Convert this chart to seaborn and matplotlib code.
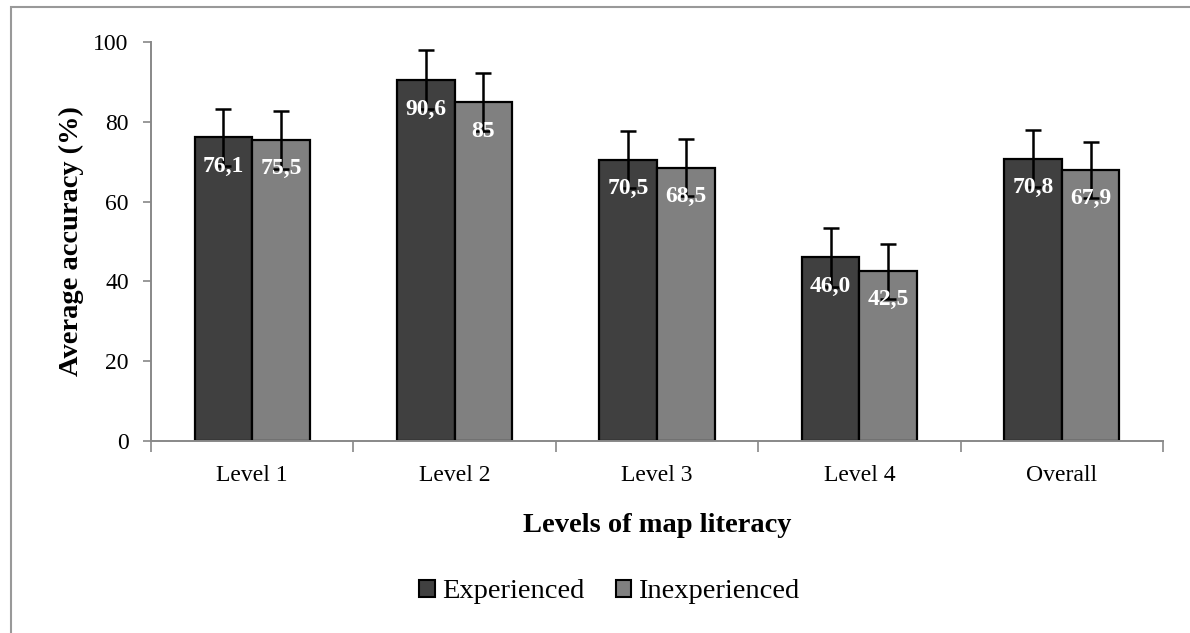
import numpy as np
import pandas as pd
import matplotlib
matplotlib.use("Agg")
import matplotlib.pyplot as plt
from matplotlib.patches import Rectangle, Patch
import seaborn as sns

levels = ["Level 1", "Level 2", "Level 3", "Level 4", "Overall"]
groups = ["Experienced", "Inexperienced"]
experienced = [76.1, 90.6, 70.5, 46.0, 70.8]
inexperienced = [75.5, 85.0, 68.5, 42.5, 67.9]
experienced_err = [7.2, 7.4, 7.1, 7.3, 7.2]
inexperienced_err = [7.3, 7.3, 7.1, 7.0, 7.1]
experienced_labels = ["76,1", "90,6", "70,5", "46,0", "70,8"]
inexperienced_labels = ["75,5", "85", "68,5", "42,5", "67,9"]
yticks = [0, 20, 40, 60, 80, 100]

colors = {"Experienced": "#404040", "Inexperienced": "#808080"}

df = pd.DataFrame({
    "level": levels * 2,
    "group": [groups[0]] * len(levels) + [groups[1]] * len(levels),
    "value": experienced + inexperienced,
    "err": experienced_err + inexperienced_err,
    "label": experienced_labels + inexperienced_labels,
})

sns.set_style("white")
plt.rcParams["font.family"] = ["Liberation Serif", "DejaVu Serif"]
plt.rcParams["text.color"] = "black"
plt.rcParams["axes.labelcolor"] = "black"
plt.rcParams["xtick.labelcolor"] = "black"
plt.rcParams["ytick.labelcolor"] = "black"

fig = plt.figure(figsize=(11.9, 6.33), dpi=100)
ax = fig.add_axes([0.1269, 0.3033, 0.8504, 0.6303])

sns.barplot(data=df, x="level", y="value", hue="group", order=levels,
            hue_order=groups, palette=colors, width=0.57, gap=0,
            edgecolor="black", linewidth=1.6, errorbar=None, ax=ax,
            legend=False, zorder=2)

# error bars and value labels, placed on the bars seaborn drew
for i, g in enumerate(groups):
    sub = df[df["group"] == g].set_index("level").loc[levels]
    bars = ax.patches[i * len(levels):(i + 1) * len(levels)]
    xs = [b.get_x() + b.get_width() / 2 for b in bars]
    ax.errorbar(xs, sub["value"], yerr=sub["err"], fmt="none",
                ecolor="black", elinewidth=1.8, capsize=6, capthick=1.8,
                zorder=3)
    for x, v, e, lab in zip(xs, sub["value"], sub["err"], sub["label"]):
        ax.text(x, v - e, lab, ha="center", va="center", color="white",
                fontsize=17, fontweight="bold", zorder=4)

ax.set_xlim(-0.5, len(levels) - 0.5)
ax.set_ylim(0, 100)
ax.set_yticks(yticks)
ax.set_yticklabels([str(t) for t in yticks], fontsize=17)
ax.set_xticks(np.arange(len(levels)))
ax.set_xticklabels(levels, fontsize=17)
ax.tick_params(axis="x", length=0, pad=17)
ax.tick_params(axis="y", direction="out", length=6, width=1.2,
               color="#888888", pad=10, left=True)
# x-axis separators between categories
ax.set_xticks(np.arange(len(levels) + 1) - 0.5, minor=True)
ax.tick_params(axis="x", which="minor", direction="out", length=8,
               width=1.2, color="#888888", bottom=True)

for s in ["top", "right"]:
    ax.spines[s].set_visible(False)
for s in ["left", "bottom"]:
    ax.spines[s].set_color("#888888")
    ax.spines[s].set_linewidth(1.4)

ax.set_ylabel("Average accuracy (%)", fontsize=20.5, fontweight="bold",
              labelpad=7)
ax.set_xlabel("Levels of map literacy", fontsize=20.5, fontweight="bold",
              labelpad=20)

handles = [Patch(facecolor=colors[g], edgecolor="black", linewidth=1.5)
           for g in groups]
fig.legend(handles, groups, loc="center", bbox_to_anchor=(0.512, 0.065),
           ncol=2, frameon=False, fontsize=20.5, handlelength=0.55,
           handleheight=0.55, handletextpad=0.25, columnspacing=1.1)

# outer chart border
fig.add_artist(Rectangle((11 / 1190, -0.05), 1.2, 1 - 7 / 633 + 0.05,
                         transform=fig.transFigure, fill=False,
                         edgecolor="#999999", linewidth=1.5))

fig.savefig("out.png", dpi=100)
